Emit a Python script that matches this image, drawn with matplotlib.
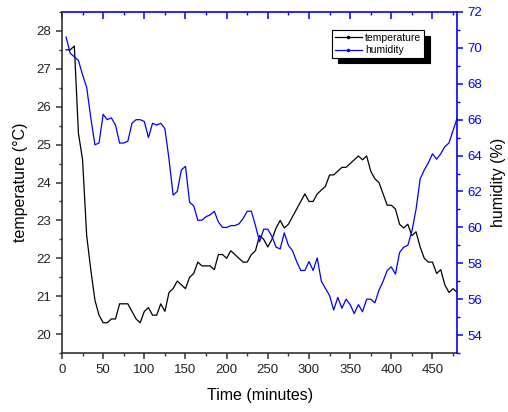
import numpy as np
import matplotlib
matplotlib.use("Agg")
import matplotlib.pyplot as plt
from matplotlib.lines import Line2D
from matplotlib.ticker import MultipleLocator

plt.rcParams['font.family'] = ['Liberation Sans', 'DejaVu Sans']

# time in minutes, one reading every 5 minutes
time_min = np.arange(5, 485, 5)

temperature = [27.5, 27.5, 27.6, 25.3, 24.6, 22.6, 21.7, 20.9, 20.5, 20.3,
               20.3, 20.4, 20.4, 20.8, 20.8, 20.8, 20.6, 20.4, 20.3, 20.6,
               20.7, 20.5, 20.5, 20.8, 20.6, 21.1, 21.2, 21.4, 21.3, 21.2,
               21.5, 21.6, 21.9, 21.8, 21.8, 21.8, 21.7, 22.1, 22.1, 22.0,
               22.2, 22.1, 22.0, 21.9, 21.9, 22.1, 22.2, 22.6, 22.5, 22.3,
               22.5, 22.8, 23.0, 22.8, 22.9, 23.1, 23.3, 23.5, 23.7, 23.5,
               23.5, 23.7, 23.8, 23.9, 24.2, 24.2, 24.3, 24.4, 24.4, 24.5,
               24.6, 24.7, 24.6, 24.7, 24.3, 24.1, 24.0, 23.7, 23.4, 23.4,
               23.3, 22.9, 22.8, 22.9, 22.6, 22.7, 22.3, 22.0, 21.9, 21.9,
               21.6, 21.7, 21.3, 21.1, 21.2, 21.1]

humidity = [70.6, 69.7, 69.5, 69.3, 68.5, 67.8, 66.1, 64.6, 64.7, 66.3,
            66.0, 66.1, 65.7, 64.7, 64.7, 64.8, 65.8, 66.0, 66.0, 65.9,
            65.0, 65.8, 65.7, 65.8, 65.5, 63.8, 61.8, 62.0, 63.2, 63.4,
            61.4, 61.2, 60.4, 60.4, 60.6, 60.7, 60.9, 60.3, 60.0, 60.0,
            60.1, 60.1, 60.2, 60.5, 60.9, 60.9, 60.1, 59.2, 59.9, 59.9,
            59.5, 58.9, 58.8, 59.7, 59.0, 58.7, 58.1, 57.6, 57.6, 58.1,
            57.6, 58.3, 57.0, 56.6, 56.2, 55.4, 56.1, 55.5, 56.0, 55.7,
            55.2, 55.7, 55.3, 56.0, 56.0, 55.8, 56.5, 57.0, 57.6, 57.8,
            57.4, 58.6, 58.9, 59.0, 59.8, 61.0, 62.7, 63.2, 63.6, 64.1,
            63.8, 64.1, 64.5, 64.7, 65.4, 66.1]

axis_col = '#333333'

fig = plt.figure(figsize=(5.08, 4.12), dpi=100)
ax = fig.add_axes([0.122, 0.143, 0.778, 0.828])
ax2 = ax.twinx()

ax.plot(time_min, temperature, color='black', lw=0.9)
ax2.plot(time_min, humidity, color='blue', lw=0.9)

ax.set_xlim(0, 480)
ax.set_ylim(19.5, 28.5)
ax2.set_ylim(53, 72)

ax.xaxis.set_major_locator(MultipleLocator(50))
ax.xaxis.set_minor_locator(MultipleLocator(25))
ax.yaxis.set_major_locator(MultipleLocator(1))
ax.yaxis.set_minor_locator(MultipleLocator(0.5))
ax2.yaxis.set_major_locator(MultipleLocator(2))
ax2.yaxis.set_minor_locator(MultipleLocator(1))

for s in ['left', 'bottom']:
    ax.spines[s].set_color(axis_col)
    ax.spines[s].set_linewidth(1.2)
for s in ['right', 'top']:
    ax.spines[s].set_visible(False)
ax2.spines['left'].set_visible(False)
ax2.spines['bottom'].set_visible(False)
ax2.spines['top'].set_visible(False)
ax2.spines['right'].set_color('blue')
ax2.spines['right'].set_linewidth(1.2)

ax.tick_params(axis='both', which='major', direction='out', length=4,
               width=1.1, color=axis_col, labelsize=9.5, labelcolor='#222222')
ax.tick_params(axis='both', which='minor', direction='out', length=2.5,
               width=1.0, color=axis_col)
ax2.tick_params(axis='y', which='major', direction='out', length=4,
                width=1.1, color='blue', labelsize=9.5, labelcolor='blue')
ax2.tick_params(axis='y', which='minor', direction='out', length=2.5,
                width=1.0, color='blue')

# blue top axis with inward ticks, no labels
top = ax.secondary_xaxis('top')
top.xaxis.set_major_locator(MultipleLocator(50))
top.xaxis.set_minor_locator(MultipleLocator(25))
top.spines['top'].set_color('blue')
top.spines['top'].set_linewidth(1.2)
top.tick_params(which='major', direction='in', length=5, width=1.1,
                color='blue', labeltop=False)
top.tick_params(which='minor', direction='in', length=2.5, width=1.0,
                color='blue')

ax.set_xlabel('Time (minutes)', fontsize=11.5, labelpad=9)
ax.set_ylabel('temperature (\u00b0C)', fontsize=11.5, labelpad=6)
ax2.set_ylabel('humidity (%)', fontsize=11.5, labelpad=6)

# legend entries drawn as line with a small dot, like the original
h1 = Line2D([], [], color='black', lw=0.9, marker='.', markersize=3)
h2 = Line2D([], [], color='blue', lw=0.9, marker='.', markersize=3)
leg = ax2.legend(handles=[h1, h2], labels=['temperature', 'humidity'],
                 loc='upper right', bbox_to_anchor=(0.916, 0.947),
                 borderaxespad=0, fontsize=7.5, fancybox=False,
                 framealpha=1, edgecolor='black', handlelength=2.6,
                 handletextpad=0.3, borderpad=0.25, labelspacing=0.25,
                 shadow={'ox': 4, 'oy': -4, 'facecolor': 'black',
                         'edgecolor': 'black', 'alpha': 1})
leg.get_frame().set_linewidth(0.8)

fig.savefig('out.png', dpi=100)
